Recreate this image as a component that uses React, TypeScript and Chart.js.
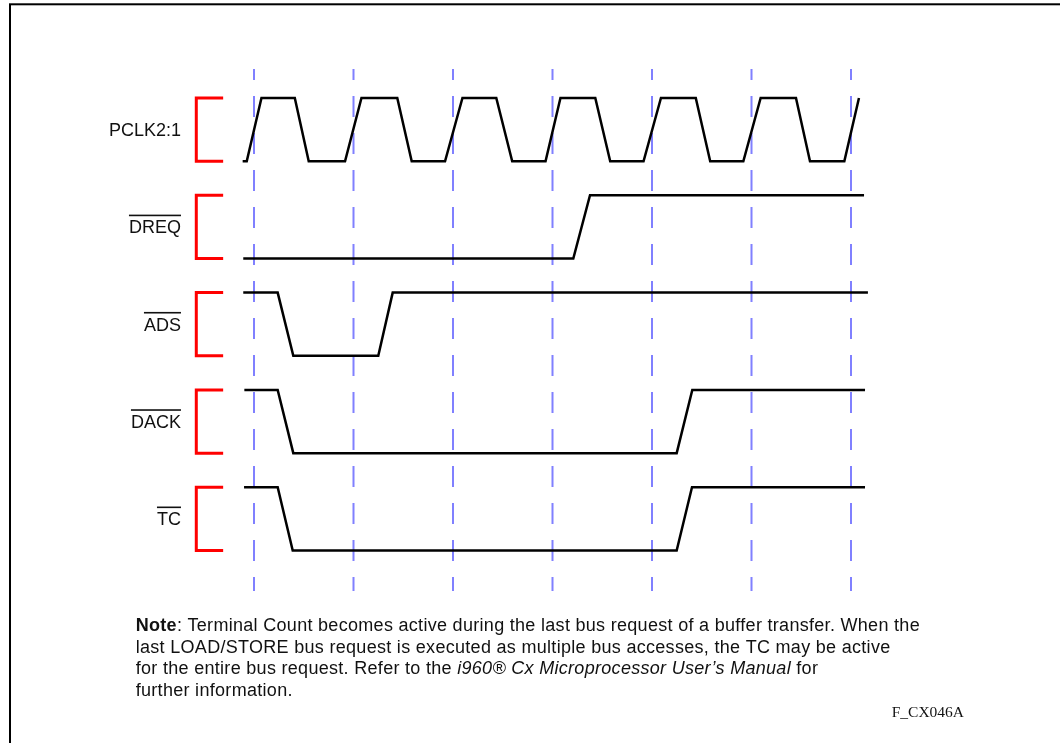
import React, { useEffect, useRef } from "react";
import { Chart, registerables } from "chart.js";

Chart.register(...registerables);

// ---- Data (time in clock cycles, level 1 = high, 0 = low) ----
const signalNames = ["PCLK2:1", "DREQ", "ADS", "DACK", "TC"];
const signalOverlined = [false, true, true, true, true];
const clockMarkers = [0, 1, 2, 3, 4, 5, 6];

const pclkTimes = [-0.114, -0.073, 0.075, 0.41, 0.55, 0.915, 1.08, 1.44, 1.585, 1.92, 2.095, 2.435, 2.595, 2.93, 3.08, 3.43, 3.58, 3.915, 4.09, 4.44, 4.585, 4.918, 5.092, 5.447, 5.588, 5.933, 6.08];
const pclkLevels = [0, 0, 1, 1, 0, 0, 1, 1, 0, 0, 1, 1, 0, 0, 1, 1, 0, 0, 1, 1, 0, 0, 1, 1, 0, 0, 1];

const dreqTimes = [-0.108, 3.209, 3.377, 6.131];
const dreqLevels = [0, 0, 1, 1];

const adsTimes = [-0.108, 0.238, 0.395, 1.249, 1.394, 6.17];
const adsLevels = [1, 1, 0, 0, 1, 1];

const dackTimes = [-0.097, 0.238, 0.395, 4.248, 4.405, 6.141];
const dackLevels = [1, 1, 0, 0, 1, 1];

const tcTimes = [-0.1, 0.238, 0.389, 4.248, 4.402, 6.141];
const tcLevels = [1, 1, 0, 0, 1, 1];

const noteLines = [
  [
    { text: "Note", style: "bold" },
    { text: ": Terminal Count becomes active during the last bus request of a buffer transfer. When the", style: "normal" },
  ],
  [{ text: "last LOAD/STORE bus request is executed as multiple bus accesses, the TC may be active", style: "normal" }],
  [
    { text: "for the entire bus request. Refer to the ", style: "normal" },
    { text: "i960® Cx Microprocessor User’s Manual", style: "italic" },
    { text: " for", style: "normal" },
  ],
  [{ text: "further information.", style: "normal" }],
];
const figureId = "F_CX046A";

// ---- layout constants ----
const AMP = 0.65; // low level offset within a row (row units)
const SANS = '"Liberation Sans", Arial, sans-serif';

function wave(times: number[], levels: number[], row: number) {
  return times.map((t, i) => ({ x: t, y: row + (1 - levels[i]) * AMP }));
}

export default function App() {
  const ref = useRef<HTMLCanvasElement>(null);

  useEffect(() => {
    const waves = [
      wave(pclkTimes, pclkLevels, 0),
      wave(dreqTimes, dreqLevels, 1),
      wave(adsTimes, adsLevels, 2),
      wave(dackTimes, dackLevels, 3),
      wave(tcTimes, tcLevels, 4),
    ];

    const datasets: any[] = [];
    clockMarkers.forEach((c) => {
      datasets.push({
        data: [
          { x: c, y: -0.298 },
          { x: c, y: 5.067 },
        ],
        borderColor: "#8080ff",
        borderWidth: 2,
        borderDash: [21, 16],
        borderDashOffset: 10,
        showLine: true,
        pointRadius: 0,
        order: 3,
        clip: false,
      });
    });
    signalNames.forEach((_, r) => {
      datasets.push({
        data: [
          { x: -0.31, y: r },
          { x: -0.58, y: r },
          { x: -0.58, y: r + AMP },
          { x: -0.31, y: r + AMP },
        ],
        borderColor: "#ff0000",
        borderWidth: 3,
        borderJoinStyle: "miter",
        borderCapStyle: "butt",
        showLine: true,
        pointRadius: 0,
        order: 2,
        clip: false,
      });
    });
    waves.forEach((w) => {
      datasets.push({
        data: w,
        borderColor: "#000000",
        borderWidth: 2.5,
        borderJoinStyle: "miter",
        showLine: true,
        pointRadius: 0,
        tension: 0,
        order: 1,
        clip: false,
      });
    });

    const decor = {
      id: "decor",
      afterDraw(chart: any) {
        const ctx = chart.ctx as CanvasRenderingContext2D;
        const xs = chart.scales.x;
        const ys = chart.scales.y;
        ctx.save();
        // frame
        ctx.strokeStyle = "#000";
        ctx.lineWidth = 2;
        ctx.strokeRect(10, 4.3, 1100, 800);

        // signal labels
        ctx.fillStyle = "#111";
        ctx.font = `18px ${SANS}`;
        ctx.textAlign = "right";
        ctx.textBaseline = "alphabetic";
        const lx = xs.getPixelForValue(-0.734);
        signalNames.forEach((name, r) => {
          const by = ys.getPixelForValue(r + AMP / 2) + 6.5;
          ctx.fillText(name, lx, by);
          if (signalOverlined[r]) {
            const w = ctx.measureText(name).width;
            ctx.fillRect(lx - w, by - 18.8, w, 1.6);
          }
        });

        // note text
        ctx.textAlign = "left";
        (ctx as any).letterSpacing = "0.3px";
        const baselines = [631, 652.7, 674.3, 696];
        noteLines.forEach((segs, i) => {
          let x = 135.7;
          segs.forEach((s) => {
            const f = s.style === "bold" ? "bold " : s.style === "italic" ? "italic " : "";
            ctx.font = `${f}18px ${SANS}`;
            ctx.fillText(s.text, x, baselines[i]);
            x += ctx.measureText(s.text).width;
          });
        });
        (ctx as any).letterSpacing = "0px";

        ctx.font = `15.5px "Liberation Serif", "Times New Roman", serif`;
        ctx.fillText(figureId, 891.7, 716.7);
        ctx.restore();
      },
    };

    const chart = new Chart(ref.current!, {
      type: "scatter",
      data: { datasets },
      options: {
        animation: false,
        responsive: false,
        devicePixelRatio: 1,
        layout: { padding: { left: 55, right: 10, top: 0.7, bottom: 61.2 } },
        scales: {
          x: { type: "linear", min: -2, max: 8, display: false },
          y: { type: "linear", min: -1, max: 6, reverse: true, display: false },
        },
        plugins: { legend: { display: false }, tooltip: { enabled: false } },
        events: [],
      },
      plugins: [decor],
    });
    return () => chart.destroy();
  }, []);

  return (
    <div style={{ position: "absolute", left: 0, top: 0, width: 1060, height: 743, background: "#fff" }}>
      <canvas ref={ref} width={1060} height={743} style={{ display: "block", width: 1060, height: 743 }} />
    </div>
  );
}
